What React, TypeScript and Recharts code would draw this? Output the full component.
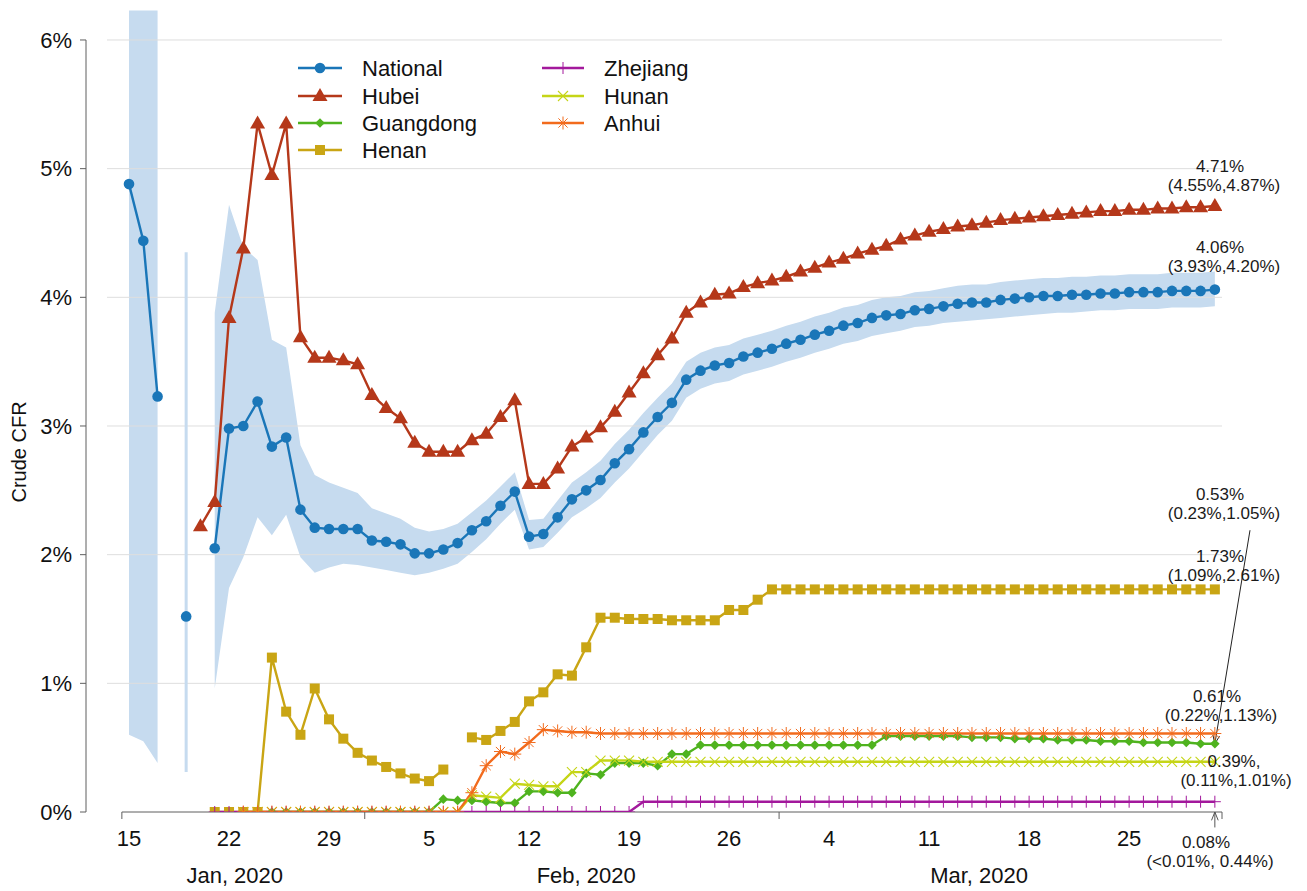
import React from 'react';
import { ComposedChart, Line, Area, XAxis, YAxis, ReferenceLine, ErrorBar } from 'recharts';

const W = 1307;
const H = 891;
const FONT = '"Liberation Sans", Arial, Helvetica, sans-serif';
const BAND = '#c6dbef';
const AXIS = '#5f5f5f';
const GRID = '#dedede';

const N = null;

// crude CFR (%), one value per day, day 0 = 15 Jan 2020, last = 31 Mar 2020
const national = [
  4.88, 4.44, 3.23, N, 1.52, N, 2.05,
  2.98, 3.0, 3.19, 2.84, 2.91, 2.35, 2.21,
  2.2, 2.2, 2.2, 2.11, 2.1, 2.08, 2.01,
  2.01, 2.04, 2.09, 2.19, 2.26, 2.38, 2.49,
  2.14, 2.16, 2.29, 2.43, 2.5, 2.58, 2.71,
  2.82, 2.95, 3.07, 3.18, 3.36, 3.43, 3.47,
  3.49, 3.54, 3.57, 3.6, 3.64, 3.67, 3.71,
  3.74, 3.78, 3.8, 3.84, 3.86, 3.87, 3.9,
  3.91, 3.93, 3.95, 3.96, 3.96, 3.98, 3.99,
  4.0, 4.01, 4.01, 4.02, 4.02, 4.03, 4.03,
  4.04, 4.04, 4.04, 4.05, 4.05, 4.05, 4.06,
];

const nationalLow = [
  0.6, 0.55, 0.38, N, 0.31, N, 0.96,
  1.74, 1.98, 2.29, 2.15, 2.31, 1.98, 1.86,
  1.9, 1.93, 1.92, 1.9, 1.88, 1.86, 1.84,
  1.86, 1.89, 1.93, 2.02, 2.12, 2.24, 2.35,
  2.04, 2.06, 2.17, 2.29, 2.36, 2.44, 2.56,
  2.67, 2.8, 2.93, 3.04, 3.22, 3.29, 3.33,
  3.35, 3.4, 3.43, 3.46, 3.5, 3.53, 3.57,
  3.6, 3.64, 3.66, 3.7, 3.72, 3.74, 3.77,
  3.78, 3.8, 3.81, 3.82, 3.83, 3.84, 3.85,
  3.86, 3.87, 3.88, 3.88, 3.89, 3.9, 3.9,
  3.91, 3.91, 3.91, 3.92, 3.92, 3.92, 3.93,
];

const nationalHigh = [
  6.23, 6.23, 6.23, N, 4.35, N, 3.88,
  4.72, 4.39, 4.29, 3.67, 3.61, 2.85, 2.62,
  2.56, 2.52, 2.48, 2.36, 2.32, 2.28, 2.21,
  2.18, 2.2, 2.24, 2.33, 2.42, 2.53, 2.64,
  2.27, 2.28, 2.42, 2.56, 2.64, 2.73, 2.86,
  2.97, 3.1, 3.22, 3.33, 3.5, 3.57, 3.61,
  3.63, 3.68, 3.71, 3.74, 3.78, 3.81, 3.85,
  3.88, 3.92, 3.94, 3.98, 4.0, 4.01, 4.04,
  4.05, 4.07, 4.09, 4.1, 4.1, 4.12, 4.13,
  4.14, 4.15, 4.15, 4.16, 4.16, 4.17, 4.17,
  4.18, 4.18, 4.18, 4.19, 4.19, 4.19, 4.2,
];

const hubei = [
  N, N, N, N, N, 2.22, 2.41,
  3.84, 4.38, 5.35, 4.95, 5.35, 3.69, 3.53,
  3.53, 3.51, 3.48, 3.24, 3.14, 3.06, 2.87,
  2.8, 2.8, 2.8, 2.89, 2.94, 3.07, 3.2,
  2.55, 2.55, 2.67, 2.84, 2.91, 2.99, 3.11,
  3.26, 3.41, 3.55, 3.68, 3.88, 3.96, 4.02,
  4.03, 4.08, 4.11, 4.13, 4.16, 4.2, 4.23,
  4.27, 4.3, 4.34, 4.37, 4.4, 4.45, 4.48,
  4.51, 4.53, 4.55, 4.56, 4.58, 4.6, 4.61,
  4.62, 4.63, 4.64, 4.65, 4.66, 4.67, 4.67,
  4.68, 4.68, 4.69, 4.69, 4.7, 4.7, 4.71,
];

const guangdong = [
  N, N, N, N, N, N, N,
  N, N, N, 0, 0, 0, 0,
  0, 0, 0, 0, 0, 0, 0,
  0, 0.1, 0.09, 0.09, 0.08, 0.07, 0.07,
  0.16, 0.16, 0.15, 0.15, 0.3, 0.29, 0.38,
  0.38, 0.38, 0.36, 0.45, 0.45, 0.52, 0.52,
  0.52, 0.52, 0.52, 0.52, 0.52, 0.52, 0.52,
  0.52, 0.52, 0.52, 0.52, 0.59, 0.59, 0.59,
  0.59, 0.59, 0.59, 0.58, 0.58, 0.58, 0.57,
  0.57, 0.57, 0.56, 0.56, 0.56, 0.55, 0.55,
  0.55, 0.54, 0.54, 0.54, 0.54, 0.53, 0.53,
];

const henan = [
  N, N, N, N, N, N, 0,
  0, 0, 0, 1.2, 0.78, 0.6, 0.96,
  0.72, 0.57, 0.46, 0.4, 0.35, 0.3, 0.26,
  0.24, 0.33, N, 0.58, 0.56, 0.63, 0.7,
  0.86, 0.93, 1.07, 1.06, 1.28, 1.51, 1.51,
  1.5, 1.5, 1.5, 1.49, 1.49, 1.49, 1.49,
  1.57, 1.57, 1.65, 1.73, 1.73, 1.73, 1.73,
  1.73, 1.73, 1.73, 1.73, 1.73, 1.73, 1.73,
  1.73, 1.73, 1.73, 1.73, 1.73, 1.73, 1.73,
  1.73, 1.73, 1.73, 1.73, 1.73, 1.73, 1.73,
  1.73, 1.73, 1.73, 1.73, 1.73, 1.73, 1.73,
];

const zhejiang = [
  N, N, N, N, N, N, 0,
  0, 0, 0, 0, 0, 0, 0,
  0, 0, 0, 0, 0, 0, 0,
  0, 0, 0, 0, 0, 0, 0,
  0, 0, 0, 0, 0, 0, 0,
  0, 0.08, 0.08, 0.08, 0.08, 0.08, 0.08,
  0.08, 0.08, 0.08, 0.08, 0.08, 0.08, 0.08,
  0.08, 0.08, 0.08, 0.08, 0.08, 0.08, 0.08,
  0.08, 0.08, 0.08, 0.08, 0.08, 0.08, 0.08,
  0.08, 0.08, 0.08, 0.08, 0.08, 0.08, 0.08,
  0.08, 0.08, 0.08, 0.08, 0.08, 0.08, 0.08,
];

const hunan = [
  N, N, N, N, N, N, N,
  N, 0, 0, 0, 0, 0, 0,
  0, 0, 0, 0, 0, 0, 0,
  0, 0, 0, 0.13, 0.12, 0.11, 0.22,
  0.21, 0.2, 0.2, 0.31, 0.31, 0.4, 0.4,
  0.4, 0.39, 0.39, 0.39, 0.39, 0.39, 0.39,
  0.39, 0.39, 0.39, 0.39, 0.39, 0.39, 0.39,
  0.39, 0.39, 0.39, 0.39, 0.39, 0.39, 0.39,
  0.39, 0.39, 0.39, 0.39, 0.39, 0.39, 0.39,
  0.39, 0.39, 0.39, 0.39, 0.39, 0.39, 0.39,
  0.39, 0.39, 0.39, 0.39, 0.39, 0.39, 0.39,
];

const anhui = [
  N, N, N, N, N, N, N,
  N, 0, 0, 0, 0, 0, 0,
  0, 0, 0, 0, 0, 0, 0,
  0, 0, 0, 0.15, 0.36, 0.47, 0.45,
  0.54, 0.64, 0.63, 0.62, 0.62, 0.61, 0.61,
  0.61, 0.61, 0.61, 0.61, 0.61, 0.61, 0.61,
  0.61, 0.61, 0.61, 0.61, 0.61, 0.61, 0.61,
  0.61, 0.61, 0.61, 0.61, 0.61, 0.61, 0.61,
  0.61, 0.61, 0.61, 0.61, 0.61, 0.61, 0.61,
  0.61, 0.61, 0.61, 0.61, 0.61, 0.61, 0.61,
  0.61, 0.61, 0.61, 0.61, 0.61, 0.61, 0.61,
];

const dayTicks = [0, 7, 14, 21, 28, 35, 42, 49, 56, 63, 70];
const dayTickLabels = ['15', '22', '29', '5', '12', '19', '26', '4', '11', '18', '25'];
const monthEdges = [-0.5, 16.5, 45.5, 76.5];
const monthLabelAt = [7.4, 32, 59.5];
const monthLabels = ['Jan, 2020', 'Feb, 2020', 'Mar, 2020'];
const yTicks = [0, 1, 2, 3, 4, 5, 6];

// final estimates with 95% CI, written at the right end
const endLabels = [
  ['4.71%', '(4.55%,4.87%)'],
  ['4.06%', '(3.93%,4.20%)'],
  ['0.53%', '(0.23%,1.05%)'],
  ['1.73%', '(1.09%,2.61%)'],
  ['0.61%', '(0.22%,1.13%)'],
  ['0.39%,', '(0.11%,1.01%)'],
  ['0.08%', '(<0.01%, 0.44%)'],
];

const X_MIN = -3.01;
const X_MAX = 76.5;
const GRID_X0 = -1.54;
const Y_TOP = 6.233;

type Kind = 'circle' | 'triangle' | 'diamond' | 'square' | 'plus' | 'cross' | 'star';

const series: { key: string; name: string; color: string; kind: Kind; values: (number | null)[] }[] = [
  { key: 'national', name: 'National', color: '#1a76b8', kind: 'circle', values: national },
  { key: 'hubei', name: 'Hubei', color: '#b5381a', kind: 'triangle', values: hubei },
  { key: 'guangdong', name: 'Guangdong', color: '#4fb31f', kind: 'diamond', values: guangdong },
  { key: 'henan', name: 'Henan', color: '#c9a514', kind: 'square', values: henan },
  { key: 'zhejiang', name: 'Zhejiang', color: '#a3199c', kind: 'plus', values: zhejiang },
  { key: 'hunan', name: 'Hunan', color: '#c5d517', kind: 'cross', values: hunan },
  { key: 'anhui', name: 'Anhui', color: '#f26b1d', kind: 'star', values: anhui },
];

const rows = national.map((_, i) => {
  const has = (j: number) => j >= 0 && j < nationalLow.length && nationalLow[j] != null;
  // a CI with no neighbours has no width as an area, so it is drawn as an error bar
  const lonely = has(i) && !has(i - 1) && !has(i + 1);
  const row: any = {
    day: i,
    band: has(i) && !lonely ? [nationalLow[i], nationalHigh[i]] : null,
    natErr: lonely ? [national[i]! - nationalLow[i]!, nationalHigh[i]! - national[i]!] : null,
  };
  series.forEach((s) => {
    row[s.key] = s.values[i];
  });
  return row;
});

const Marker = ({ kind, cx, cy, color }: { kind: Kind; cx: number; cy: number; color: string }) => {
  switch (kind) {
    case 'circle':
      return <circle cx={cx} cy={cy} r={5.3} fill={color} />;
    case 'triangle':
      return <polygon points={`${cx},${cy - 8} ${cx - 7.5},${cy + 5} ${cx + 7.5},${cy + 5}`} fill={color} />;
    case 'diamond':
      return <polygon points={`${cx},${cy - 4.8} ${cx + 4.8},${cy} ${cx},${cy + 4.8} ${cx - 4.8},${cy}`} fill={color} />;
    case 'square':
      return <rect x={cx - 5} y={cy - 5} width={10} height={10} fill={color} />;
    case 'plus':
      return <path d={`M${cx - 6},${cy}H${cx + 6}M${cx},${cy - 6}V${cy + 6}`} stroke={color} strokeWidth={1} fill="none" />;
    case 'cross':
      return <path d={`M${cx - 5},${cy - 5}L${cx + 5},${cy + 5}M${cx - 5},${cy + 5}L${cx + 5},${cy - 5}`} stroke={color} strokeWidth={1.1} fill="none" />;
    default:
      return (
        <path
          d={`M${cx - 6.5},${cy}H${cx + 6.5}M${cx},${cy - 6.5}V${cy + 6.5}M${cx - 4.6},${cy - 4.6}L${cx + 4.6},${cy + 4.6}M${cx - 4.6},${cy + 4.6}L${cx + 4.6},${cy - 4.6}`}
          stroke={color}
          strokeWidth={1}
          fill="none"
        />
      );
  }
};

const renderDot = (p: any, s: (typeof series)[number]) => {
  const k = `${s.key}-dot-${p.index}`;
  if (p.value == null || !Number.isFinite(p.cx) || !Number.isFinite(p.cy)) return <g key={k} />;
  return (
    <g key={k}>
      <Marker kind={s.kind} cx={p.cx} cy={p.cy} color={s.color} />
    </g>
  );
};

const XTick = (props: any) => {
  const { x, y, payload } = props;
  const v = payload.value;
  if (monthEdges.includes(v)) {
    return <line x1={x} x2={x} y1={y} y2={y + 7} stroke={AXIS} strokeWidth={1} />;
  }
  const m = monthLabelAt.indexOf(v);
  if (m >= 0) {
    return (
      <text x={x} y={y + 71} textAnchor="middle" fontSize={22} fontFamily={FONT} fill="#111">
        {monthLabels[m]}
      </text>
    );
  }
  return (
    <text x={x} y={y + 34} textAnchor="middle" fontSize={22} fontFamily={FONT} fill="#111">
      {dayTickLabels[dayTicks.indexOf(v)]}
    </text>
  );
};

const Arrow = (props: any) => {
  const { x1, y1, x2, y2, stroke } = props;
  if (![x1, y1, x2, y2].every(Number.isFinite)) return <g />;
  const a = Math.atan2(y2 - y1, x2 - x1);
  const L = 9;
  const w = 0.38;
  const ax = x2 - L * Math.cos(a - w);
  const ay = y2 - L * Math.sin(a - w);
  const bx = x2 - L * Math.cos(a + w);
  const by = y2 - L * Math.sin(a + w);
  return (
    <g>
      <line x1={x1} y1={y1} x2={x2} y2={y2} stroke={stroke} strokeWidth={1} />
      <path d={`M${ax},${ay}L${x2},${y2}L${bx},${by}`} stroke={stroke} strokeWidth={1} fill="none" />
    </g>
  );
};

// label anchors (px) for the end-of-series notes, same order as endLabels
const endLabelPos = [
  { x: [1220, 1224], y: [172, 191] },
  { x: [1220, 1224], y: [253, 272] },
  { x: [1220, 1224], y: [500, 519] },
  { x: [1220, 1224], y: [562, 581] },
  { x: [1217, 1221], y: [702, 721] },
  { x: [1234, 1236], y: [767, 786] },
  { x: [1206, 1210], y: [848, 867] },
];

const legendCols = [
  { x0: 298, x1: 342, tx: 362, keys: ['national', 'hubei', 'guangdong', 'henan'] },
  { x0: 542, x1: 584, tx: 604, keys: ['zhejiang', 'hunan', 'anhui'] },
];
const legendRowY = [68, 96, 123, 150];

export default function App() {
  const last = national.length - 1;
  return (
    <div style={{ position: 'absolute', left: 0, top: 0, width: W, height: H, background: '#fff' }}>
      <ComposedChart width={W} height={H} data={rows} margin={{ top: 10, right: 85, bottom: 0, left: 0 }}>
        <XAxis
          dataKey="day"
          type="number"
          domain={[X_MIN, X_MAX]}
          allowDataOverflow
          ticks={[...monthEdges, ...dayTicks, ...monthLabelAt]}
          interval={0}
          tick={<XTick />}
          tickLine={false}
          axisLine={false}
          tickSize={0}
          tickMargin={0}
          height={79}
        />
        <YAxis
          type="number"
          domain={[0, Y_TOP]}
          allowDataOverflow
          ticks={yTicks}
          tickFormatter={(v: number) => `${v}%`}
          width={86}
          axisLine={false}
          tickLine={{ stroke: AXIS }}
          tickSize={6}
          tickMargin={8}
          tick={{ fontSize: 22, fill: '#111', fontFamily: FONT }}
        />
        {yTicks.slice(1).map((v) => (
          <ReferenceLine
            key={`grid-${v}`}
            segment={[{ x: GRID_X0, y: v }, { x: X_MAX, y: v }]}
            stroke={GRID}
            strokeWidth={1}
            ifOverflow="visible"
          />
        ))}
        <ReferenceLine segment={[{ x: X_MIN, y: 0 }, { x: X_MIN, y: 6 }]} stroke={AXIS} strokeWidth={1} ifOverflow="visible" />
        <ReferenceLine segment={[{ x: -0.5, y: 0 }, { x: X_MAX, y: 0 }]} stroke={AXIS} strokeWidth={1} ifOverflow="visible" />
        <Area
          dataKey="band"
          type="linear"
          fill={BAND}
          fillOpacity={1}
          stroke="none"
          connectNulls={false}
          dot={false}
          activeDot={false}
          isAnimationActive={false}
        />
        {series.map((s) => (
          <Line
            key={s.key}
            dataKey={s.key}
            type="linear"
            stroke={s.color}
            strokeWidth={2.4}
            connectNulls={false}
            dot={(p: any) => renderDot(p, s)}
            activeDot={false}
            isAnimationActive={false}
          >
            {s.key === 'national' ? <ErrorBar dataKey="natErr" width={0} strokeWidth={3} stroke={BAND} direction="y" /> : null}
          </Line>
        ))}
        <ReferenceLine
          segment={[{ x: 78.46, y: 2.19 }, { x: last, y: guangdong[last] as number }]}
          stroke="#222"
          ifOverflow="visible"
          shape={(p: any) => <Arrow {...p} stroke="#222" />}
        />
        <ReferenceLine
          segment={[{ x: last, y: -0.12 }, { x: last, y: 0 }]}
          stroke="#555"
          ifOverflow="visible"
          shape={(p: any) => <Arrow {...p} stroke="#555" />}
        />
      </ComposedChart>
      <svg width={W} height={H} style={{ position: 'absolute', left: 0, top: 0, pointerEvents: 'none' }}>
        <text x={19} y={452} transform="rotate(-90 19 452)" textAnchor="middle" dominantBaseline="central" fontSize={20} fontFamily={FONT} fill="#111">
          Crude CFR
        </text>
        {legendCols.map((c) =>
          c.keys.map((k, r) => {
            const s = series.find((q) => q.key === k)!;
            const y = legendRowY[r];
            return (
              <g key={`lg-${k}`}>
                <line x1={c.x0} x2={c.x1} y1={y} y2={y} stroke={s.color} strokeWidth={2.4} />
                <Marker kind={s.kind} cx={(c.x0 + c.x1) / 2} cy={y} color={s.color} />
                <text x={c.tx} y={y + 8} fontSize={22} fontFamily={FONT} fill="#111">
                  {s.name}
                </text>
              </g>
            );
          }),
        )}
        {endLabels.map((lines, i) => (
          <g key={`end-${i}`}>
            {lines.map((t, j) => (
              <text
                key={j}
                x={endLabelPos[i].x[j]}
                y={endLabelPos[i].y[j]}
                textAnchor="middle"
                fontSize={17}
                fontFamily={FONT}
                fill="#1a1a1a"
              >
                {t}
              </text>
            ))}
          </g>
        ))}
      </svg>
    </div>
  );
}
